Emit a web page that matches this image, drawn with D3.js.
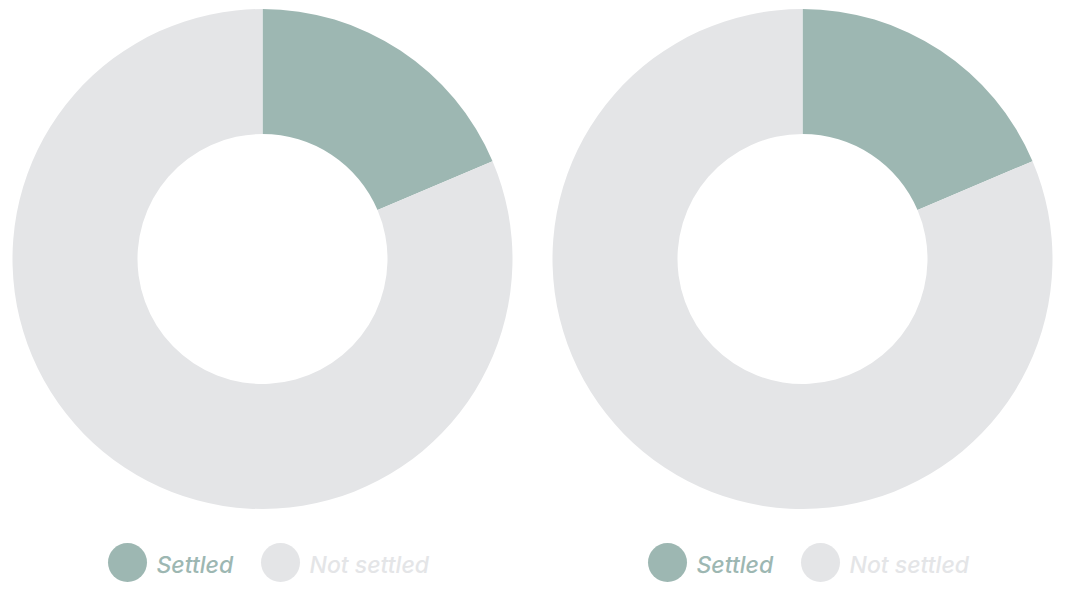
<!DOCTYPE html>
<html>
<head>
<meta charset="utf-8">
<script src="https://cdn.jsdelivr.net/npm/d3@7"></script>
<style>
body { margin: 0; background: #ffffff; }
</style>
</head>
<body>
<svg id="chart"></svg>
<script>
var width = 1065;
var height = 591;

// two donuts, same split
var charts = ["left", "right"];
var categories = ["Settled", "Not settled"];
var values = [[18.6, 81.4], [18.6, 81.4]];
var colors = ["#9db7b2", "#e4e5e7"];

var outerRadius = 250;
var innerRadius = 125;

var svg = d3.select("#chart")
.attr("width", width)
.attr("height", height);

var x = d3.scalePoint()
.domain(charts)
.range([262.5, 802.5]);

var pie = d3.pie().sort(null).value(function (d) { return d; });
var arc = d3.arc().innerRadius(innerRadius).outerRadius(outerRadius);
var color = d3.scaleOrdinal().domain(categories).range(colors);

var group = svg.selectAll("g.donut")
.data(charts)
.enter().append("g")
.attr("class", "donut")
.attr("transform", function (d) {
	return "translate(" + x(d) + ", 259)";
});

group.selectAll("path")
.data(function (d, i) { return pie(values[i]); })
.enter().append("path")
.attr("d", arc)
.style("fill", function (d, i) { return color(categories[i]); });

// legend under each donut
var legendX = [-135, 18];
var legend = group.selectAll("g.legend")
.data(categories)
.enter().append("g")
.attr("class", "legend")
.attr("transform", function (d, i) {
	return "translate(" + legendX[i] + ", 303.5)";
});

legend.append("circle")
.attr("r", 19.5)
.style("fill", function (d) { return color(d); });

legend.append("text")
.attr("x", 29)
.attr("y", 10.5)
.style("fill", function (d) { return color(d); })
.style("font-family", "Inter, 'Open Sans', sans-serif")
.style("font-style", "italic")
.style("font-weight", 500)
.style("font-size", "23px")
.text(function (d) { return d; });
</script>
</body>
</html>
